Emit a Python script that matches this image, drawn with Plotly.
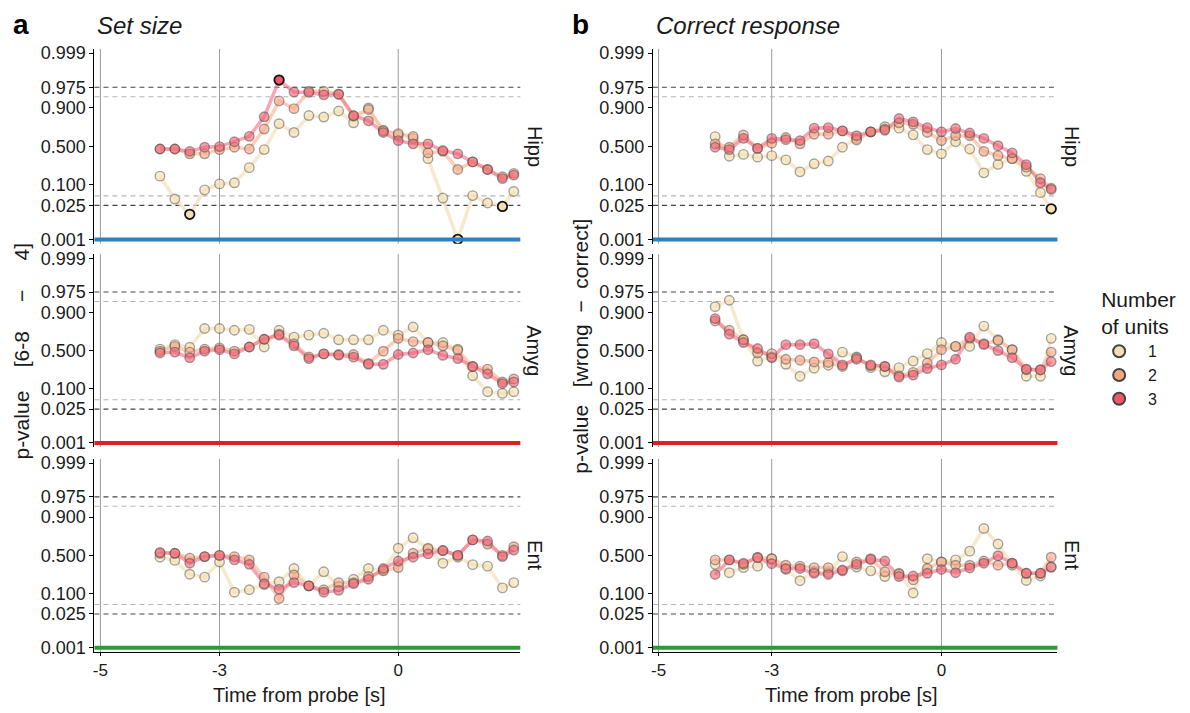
import plotly.graph_objects as go
from statistics import NormalDist

probit = NormalDist().inv_cdf

# Sliding-window centres (s, relative to probe onset)
time_s = [-4.0, -3.75, -3.5, -3.25, -3.0, -2.75, -2.5, -2.25, -2.0, -1.75, -1.5, -1.25,
          -1.0, -0.75, -0.5, -0.25, 0.0, 0.25, 0.5, 0.75, 1.0, 1.25, 1.5, 1.75, 1.94]

# ---- a: set size (6-8 vs 4), p-values per number of units ----
hipp_set_1 = [.161, .040, .012, .074, .106, .113, .239, .456, .773, .677, .846, .834, .879,
              .782, .898, .702, .644, .603, .341, .043, .001, .051, .030, .023, .067]
hipp_set_2 = [.464, .464, .401, .401, .456, .488, .464, .716, .934, .894, .966, .966, .958,
              .841, .889, .695, .663, .629, .413, .433, .221, .302, .221, .156, .184]
hipp_set_3 = [.464, .464, .433, .488, .496, .560, .629, .836, .986, .964, .963, .956, .958,
              .846, .800, .677, .575, .532, .532, .444, .401, .302, .221, .142, .169]

amyg_set_1 = [.520, .579, .544, .770, .770, .752, .761, .548, .752, .674, .698, .719, .641,
              .641, .641, .752, .698, .785, .606, .606, .520, .200, .084, .076, .084]
amyg_set_2 = [.492, .556, .480, .520, .536, .492, .548, .648, .709, .591, .417, .456, .448,
              .448, .334, .492, .659, .618, .606, .564, .504, .298, .268, .147, .171]
amyg_set_3 = [.468, .480, .405, .492, .512, .456, .548, .648, .698, .564, .394, .456, .440,
              .413, .323, .323, .448, .468, .512, .436, .394, .298, .218, .134, .147]

ent_set_1 = [.476, .433, .264, .233, .413, .109, .125, .164, .189, .330, .154, .291, .149,
             .212, .330, .312, .595, .722, .583, .397, .476, .378, .359, .138, .181]
ent_set_2 = [.528, .528, .464, .484, .500, .484, .440, .233, .074, .255, .154, .125, .181,
             .181, .239, .302, .341, .528, .595, .564, .500, .698, .648, .500, .614]
ent_set_3 = [.540, .528, .397, .484, .500, .440, .382, .171, .129, .181, .154, .109, .121,
             .171, .212, .330, .425, .476, .520, .564, .500, .698, .684, .484, .571]

# ---- b: correct response (wrong vs correct) ----
hipp_resp_1 = [.626, .371, .394, .359, .378, .326, .198, .281, .312, .488, .603, .684, .742,
               .726, .648, .456, .401, .560, .464, .189, .274, .341, .203, .062, .019]
hipp_resp_2 = [.532, .488, .648, .472, .540, .614, .532, .655, .655, .695, .583, .684, .716,
               .782, .767, .677, .575, .637, .637, .433, .378, .341, .245, .142, .082]
hipp_resp_3 = [.488, .456, .603, .472, .603, .587, .575, .726, .732, .695, .637, .684, .702,
               .821, .791, .732, .684, .722, .670, .603, .508, .413, .271, .113, .076]

amyg_resp_1 = [.929, .954, .641, .363, .417, .323, .195, .278, .312, .480, .417, .284, .239,
               .284, .363, .460, .606, .556, .556, .794, .641, .512, .195, .195, .659]
amyg_resp_2 = [.839, .752, .641, .468, .460, .386, .374, .352, .345, .298, .405, .305, .298,
               .200, .233, .337, .512, .556, .659, .591, .633, .512, .261, .261, .480]
amyg_resp_3 = [.858, .709, .606, .528, .405, .579, .579, .591, .456, .316, .386, .316, .298,
               .187, .206, .274, .316, .386, .674, .579, .500, .405, .268, .258, .356]

ent_resp_1 = [.382, .281, .341, .359, .456, .319, .198, .291, .281, .484, .348, .302, .239,
              .274, .104, .456, .413, .440, .556, .816, .648, .371, .200, .245, .348]
ent_resp_2 = [.440, .440, .382, .476, .456, .371, .359, .341, .341, .302, .413, .456, .291,
              .264, .206, .330, .413, .371, .371, .425, .371, .397, .274, .274, .476]
ent_resp_3 = [.261, .440, .397, .468, .390, .330, .330, .274, .261, .312, .382, .444, .425,
              .239, .245, .274, .319, .281, .337, .397, .496, .397, .274, .274, .348]

regions = ["Hipp", "Amyg", "Ent"]
region_colors = ["#2f7fc1", "#e0201f", "#2e9a34"]
unit_labels = ["1", "2", "3"]
unit_fill = ["rgba(243,222,176,0.62)", "rgba(245,168,135,0.62)", "rgba(240,96,116,0.6)"]
unit_solid = ["#f5deb3", "#f4a582", "#f05569"]
unit_line = ["rgba(242,224,184,0.7)", "rgba(250,185,158,0.7)", "rgba(243,118,136,0.65)"]

panels = {
    (0, 0): [hipp_set_1, hipp_set_2, hipp_set_3],
    (1, 0): [amyg_set_1, amyg_set_2, amyg_set_3],
    (2, 0): [ent_set_1, ent_set_2, ent_set_3],
    (0, 1): [hipp_resp_1, hipp_resp_2, hipp_resp_3],
    (1, 1): [amyg_resp_1, amyg_resp_2, amyg_resp_3],
    (2, 1): [ent_resp_1, ent_resp_2, ent_resp_3],
}

p_ticks = [0.001, 0.025, 0.1, 0.5, 0.9, 0.975, 0.999]
p_ticktext = ["0.001", "0.025", "0.100", "0.500", "0.900", "0.975", "0.999"]

W, H = 1190, 713
col_px = [(92.6, 519.2), (652.0, 1057.2)]
row_px = [(44.6, 242.4), (253.0, 449.0), (461.0, 657.0)]
x_range = [-5.1, 2.05]
z_lim = 3.23

FONT = "Liberation Sans, Arial, sans-serif"
TXT = "#1a1a1a"
NB = "\u00a0"
fig = go.Figure()
layout = dict(width=W, height=H, margin=dict(l=0, r=0, t=0, b=0),
              paper_bgcolor="white", plot_bgcolor="white",
              font=dict(family=FONT, color=TXT))
shapes, annotations = [], []

for r in range(3):
    for c in range(2):
        idx = r * 2 + c + 1
        xa = "x" if idx == 1 else f"x{idx}"
        ya = "y" if idx == 1 else f"y{idx}"
        xk = "xaxis" if idx == 1 else f"xaxis{idx}"
        yk = "yaxis" if idx == 1 else f"yaxis{idx}"
        x0, x1 = col_px[c]
        y0, y1 = row_px[r]
        layout[xk] = dict(domain=[x0 / W, x1 / W], range=x_range, anchor=ya,
                          showgrid=False, zeroline=False,
                          showline=(r == 2), linecolor="black", linewidth=1,
                          tickvals=[-5, -3, 0], ticktext=["-5", "-3", "0"],
                          showticklabels=(r == 2), ticks="outside" if r == 2 else "",
                          ticklen=3, tickcolor="black",
                          tickfont=dict(size=17, color=TXT))
        layout[yk] = dict(domain=[1 - y1 / H, 1 - y0 / H], range=[-z_lim, z_lim], anchor=xa,
                          showgrid=False, zeroline=False, showline=True,
                          linecolor="black", linewidth=1,
                          tickvals=[probit(p) for p in p_ticks], ticktext=p_ticktext,
                          ticks="outside", ticklen=4, tickcolor="black",
                          tickfont=dict(size=18, color=TXT))

        def hline(p, color, width, dash):
            shapes.append(dict(type="line", xref=f"{xa} domain", yref=ya, x0=0, x1=1,
                               y0=probit(p), y1=probit(p), layer="below",
                               line=dict(color=color, width=width, dash=dash)))
        hline(0.975, "#444444", 1.1, "5px,4px")
        hline(0.025, "#444444", 1.1, "5px,4px")
        hline(0.95, "#b5b5b5", 1.1, "5px,4px")
        hline(0.05, "#b5b5b5", 1.1, "5px,4px")
        for xv in [-5, -3, 0]:
            shapes.append(dict(type="line", xref=xa, yref=f"{ya} domain", x0=xv, x1=xv,
                               y0=0, y1=1, layer="below",
                               line=dict(color="#9a9a9a", width=1)))
        shapes.append(dict(type="line", xref=f"{xa} domain", yref=ya, x0=0, x1=1,
                           y0=probit(0.001), y1=probit(0.001),
                           line=dict(color=region_colors[r], width=4)))

        # strip label on the right of each panel
        annotations.append(dict(text=regions[r], textangle=90, showarrow=False,
                                xref="paper", yref="paper",
                                x=(x1 + 14) / W, y=1 - (y0 + y1) / 2 / H,
                                xanchor="center", yanchor="middle",
                                font=dict(size=20, color=TXT)))

        series = panels[(r, c)]
        for k, pv in enumerate(series):
            fig.add_trace(go.Scatter(x=time_s, y=[probit(p) for p in pv], xaxis=xa, yaxis=ya,
                                     mode="lines", line=dict(color=unit_line[k], width=3.5),
                                     hoverinfo="skip", showlegend=False))
        for k, pv in enumerate(series):
            sig = [(p < 0.025 or p > 0.975) for p in pv]
            fig.add_trace(go.Scatter(
                x=time_s, y=[probit(max(p, 0.00101)) for p in pv], xaxis=xa, yaxis=ya,
                mode="markers", name=unit_labels[k], legendgroup=unit_labels[k],
                showlegend=False,
                marker=dict(size=9.5,
                            color=[unit_solid[k] if s else unit_fill[k] for s in sig],
                            line=dict(color=["#111111" if s else "rgba(60,60,60,0.45)" for s in sig],
                                      width=[1.8 if s else 1.4 for s in sig]))))

# legend entries
for k in range(3):
    fig.add_trace(go.Scatter(x=[None], y=[None], mode="markers", name=NB * 2 + unit_labels[k],
                             marker=dict(size=11, color=unit_solid[k],
                                         line=dict(color="#444444", width=1.3)),
                             showlegend=True))

ylab_a = "p-value" + NB * 4 + "[6-8" + NB * 5 + "\u2212" + NB * 5 + "4]"
ylab_b = "p-value" + NB * 3 + "[wrong" + NB * 2 + "\u2212" + NB * 2 + "correct]"
annotations += [
    dict(text="<b>a</b>", x=9 / W, y=1 - 20 / H, xref="paper", yref="paper", showarrow=False,
         xanchor="left", yanchor="middle", font=dict(size=28, color="black")),
    dict(text="<i>Set size</i>", x=93 / W, y=1 - 21 / H, xref="paper", yref="paper",
         showarrow=False, xanchor="left", yanchor="middle", font=dict(size=24, color=TXT)),
    dict(text="<b>b</b>", x=569 / W, y=1 - 20 / H, xref="paper", yref="paper", showarrow=False,
         xanchor="left", yanchor="middle", font=dict(size=28, color="black")),
    dict(text="<i>Correct response</i>", x=653 / W, y=1 - 21 / H, xref="paper", yref="paper",
         showarrow=False, xanchor="left", yanchor="middle", font=dict(size=24, color=TXT)),
    dict(text=ylab_a, textangle=-90, x=20 / W, y=1 - 351 / H,
         xref="paper", yref="paper", showarrow=False, xanchor="center", yanchor="middle",
         font=dict(size=21, color=TXT)),
    dict(text=ylab_b, textangle=-90, x=580 / W, y=1 - 347 / H,
         xref="paper", yref="paper", showarrow=False, xanchor="center", yanchor="middle",
         font=dict(size=21, color=TXT)),
    dict(text="Time from probe [s]", x=298 / W, y=0, xref="paper", yref="paper",
         showarrow=False, xanchor="center", yanchor="bottom", borderpad=0,
         yshift=0, font=dict(size=20, color=TXT)),
    dict(text="Time from probe [s]", x=851 / W, y=0, xref="paper", yref="paper",
         showarrow=False, xanchor="center", yanchor="bottom", borderpad=0,
         yshift=0, font=dict(size=20, color=TXT)),
]

layout["shapes"] = shapes
layout["annotations"] = annotations
layout["legend"] = dict(title=dict(text="Number<br>of units", font=dict(size=21)),
                        x=1099 / W, y=1 - 279 / H, xanchor="left", yanchor="top",
                        font=dict(size=16), itemsizing="constant", tracegroupgap=0)
fig.update_layout(**layout)
fig.write_html("out.html")
